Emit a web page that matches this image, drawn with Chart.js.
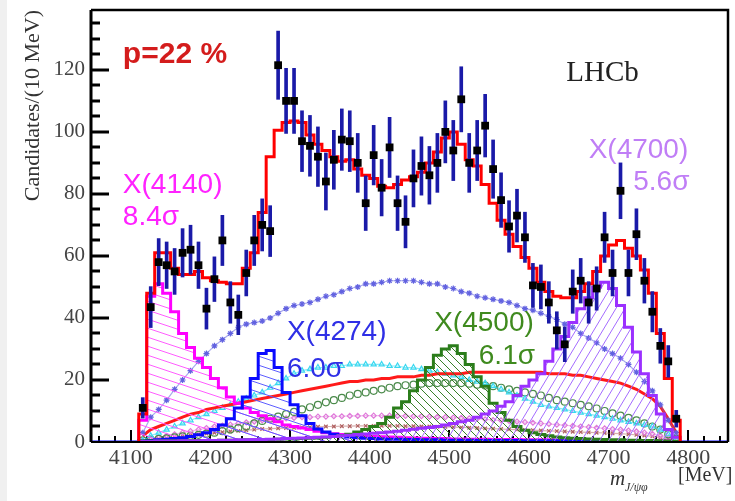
<!DOCTYPE html>
<html lang="en">
<head>
    <meta charset="UTF-8">
    <title>m(J/psi phi) fit</title>
    <script src="https://cdn.jsdelivr.net/npm/chart.js"></script>
    <style>
        body { margin: 0; background: #fff; }
        canvas { display: block; }
    </style>
</head>
<body>
<canvas id="massChart" width="735" height="501"></canvas>
<script>
    // 10 MeV bin centres, 4115 ... 4785
    const bins = Array.from({ length: 68 }, (_, i) => 4115 + 10 * i);

    const xTickLabels = [4100, 4200, 4300, 4400, 4500, 4600, 4700, 4800];
    const yTickLabels = [0, 20, 40, 60, 80, 100, 120];

    // data points and their errors
    const dataVals = [11, 43.5, 58, 57, 55, 61, 62, 57, 43, 52.5,
        65, 45, 41, 54.5, 65, 70, 68, 121.5, 110, 110,
        97, 95.5, 92, 84, 91, 97.5, 97, 90, 77, 92.5,
        82, 95, 77, 71, 85, 89, 86, 90, 100, 94,
        110.5, 90, 94, 102, 88, 78, 69.5, 73, 66, 50.5,
        50, 45, 36, 31.5, 48.5, 52, 45, 49.5, 66, 54.5,
        81, 54.5, 67, 52, 42, 31, 26, 7.5];
    const dataErr = [3.3, 6.6, 7.6, 7.5, 7.4, 7.8, 7.9, 7.5, 6.6, 7.2,
        8.1, 6.7, 6.4, 7.4, 8.1, 8.4, 8.2, 11, 10.5, 10.5,
        9.8, 9.8, 9.6, 9.2, 9.5, 9.9, 9.8, 9.5, 8.8, 9.6,
        9.1, 9.7, 8.8, 8.4, 9.2, 9.4, 9.3, 9.5, 10, 9.7,
        10.5, 9.5, 9.7, 10.1, 9.4, 8.8, 8.3, 8.5, 8.1, 7.1,
        7.1, 6.7, 6, 5.6, 7, 7.2, 6.7, 7, 8.1, 7.4,
        9, 7.4, 8.2, 7.2, 6.5, 5.6, 5.1, 2.7];

    // total fit
    const fitTotal = [9, 48, 61, 61, 56, 54, 54, 55, 53, 52,
        51.5, 51, 51, 56, 61, 74, 92, 100.5, 103, 103.5,
        103, 99, 96, 94, 92, 90.5, 91, 88, 86, 85,
        82.5, 82, 83, 84.5, 85.5, 87, 90, 93.5, 98, 100,
        96, 91, 89, 83, 77, 71.5, 67, 63, 59.5, 56,
        51.5, 48.5, 47, 46.5, 46.5, 48.5, 51, 55, 60, 63.5,
        65, 62.5, 60, 55.5, 48, 35, 20.5, 7];

    // hatched X states
    const x4140 = [7, 47, 51, 48, 42, 35, 30.5, 27, 24, 20.5,
        17.5, 14.5, 12.5, 11, 9.5, 8.5, 7.5, 6.5, 5.5, 5,
        4.5, 4, 3.5, 3, 2.7, 2.4, 2.2, 2, 1.9, 1.8,
        1.7, 1.6, 1.5, 1.4, 1.3, 1.2, 1.2, 1.1, 1.1, 1,
        1, 0.9, 0.9, 0.9, 0.8, 0.8, 0.8, 0.8, 0.7, 0.7,
        0.7, 0.7, 0.6, 0.6, 0.6, 0.6, 0.6, 0.5, 0.5, 0.5,
        0.5, 0.5, 0.5, 0.4, 0.4, 0.4, 0.3, 0.2];
    const x4274 = [0.3, 0.5, 0.7, 0.9, 1.1, 1.4, 1.8, 2.3, 3, 4,
        5.5, 7.5, 11, 14.5, 20.5, 28.5, 29.5, 24, 16, 12,
        8.5, 6, 4.2, 3.2, 2.5, 2, 1.6, 1.4, 1.2, 1.1,
        1, 0.9, 0.9, 0.8, 0.8, 0.7, 0.7, 0.7, 0.6, 0.6,
        0.6, 0.6, 0.5, 0.5, 0.5, 0.5, 0.5, 0.5, 0.4, 0.4,
        0.4, 0.4, 0.4, 0.4, 0.4, 0.4, 0.3, 0.3, 0.3, 0.3,
        0.3, 0.3, 0.3, 0.3, 0.2, 0.2, 0.2, 0.1];
    const x4500 = [0.3, 0.3, 0.3, 0.4, 0.4, 0.4, 0.4, 0.5, 0.5, 0.5,
        0.6, 0.6, 0.6, 0.7, 0.7, 0.8, 0.8, 0.9, 1, 1,
        1.1, 1.2, 1.3, 1.5, 1.8, 2.1, 2.5, 3.2, 4, 5,
        6, 8, 11, 13, 16.5, 20, 24, 28, 30, 31,
        28.5, 25, 21, 18, 12.5, 9.5, 7, 5, 3.8, 3,
        2.4, 2, 1.6, 1.4, 1.2, 1.1, 1, 0.9, 0.8, 0.7,
        0.7, 0.6, 0.6, 0.5, 0.5, 0.4, 0.3, 0.2];
    const x4700 = [0.2, 0.2, 0.3, 0.3, 0.3, 0.4, 0.4, 0.4, 0.5, 0.5,
        0.6, 0.6, 0.7, 0.7, 0.8, 0.8, 0.9, 1, 1.1, 1.2,
        1.3, 1.4, 1.5, 1.6, 1.8, 2, 2.2, 2.4, 2.6, 2.8,
        3, 3.2, 3.5, 3.8, 4.1, 4.4, 4.7, 5, 5.5, 6,
        6.5, 7, 8, 9, 10, 11.5, 13, 15, 18, 20,
        22, 26, 30, 34, 38.5, 43, 46.5, 50, 51.5, 49.5,
        44, 37, 29, 22, 15, 9, 4, 1.5];

    // other fit components (markers / smooth lines)
    const starComp = [3, 8, 10.5, 13.5, 17, 20, 23, 26, 28.5, 31,
        33, 35, 37, 38, 38.5, 39, 40, 41.5, 43, 44,
        44.5, 45, 46, 47, 47.5, 48.5, 49.5, 50, 51, 51,
        51.5, 52, 52, 52, 52, 51.5, 51, 51, 50, 49.5,
        48.5, 48, 47, 46.5, 46, 45.5, 45, 44, 43, 42.5,
        41.5, 40.5, 39.5, 38, 37, 35, 33.5, 32, 30, 28.5,
        27, 25, 22.5, 19.5, 16.5, 12, 7, 3];
    const cyanComp = [0.5, 2, 3, 4, 5, 6, 7, 8, 9, 10,
        11, 12, 13, 14, 15, 16, 17.5, 19, 20.5, 22,
        23, 23.5, 24, 24, 24.5, 24.5, 25, 25, 25, 25,
        25, 24.5, 24.5, 24, 24, 23.5, 23, 22.5, 22, 21.5,
        21, 20, 19.5, 19, 18, 17, 16, 15, 14, 13,
        12, 11.5, 11, 10.5, 10, 9.5, 9, 8.5, 8, 7.5,
        7, 6.5, 6, 5.5, 5, 4, 2.5, 1];
    const redComp = [2, 4, 5, 6, 7, 8, 9, 9.5, 10.5, 11,
        11.5, 12, 12.5, 13, 13.5, 14, 14.5, 15, 15.5, 16,
        16.5, 17, 17.5, 18, 18.5, 19, 19.5, 19.5, 20, 20,
        20.5, 20.5, 21, 21, 21, 21.5, 21.5, 22, 22, 22,
        22, 22.5, 22.5, 22.5, 22.5, 22.5, 22.5, 22.5, 22.5, 22.5,
        22.5, 22, 22, 22, 21.5, 21.5, 21, 20.5, 20, 19.5,
        19, 18, 17, 15.5, 14, 11.5, 7.5, 3];
    const circComp = [0.5, 0.8, 1, 1.2, 1.5, 1.8, 2, 2.3, 2.7, 3,
        3.5, 4, 4.5, 5, 6, 6.8, 7.5, 8.2, 9, 9.7,
        10.5, 11.2, 12, 12.8, 13.5, 14.2, 15, 15.5, 16, 16.5,
        17, 17.5, 18, 18.3, 18.5, 18.8, 19, 19, 19, 19,
        19, 18.8, 18.5, 18.2, 18, 17.5, 17, 16.5, 16, 15.5,
        15, 14.2, 13.5, 13, 12.5, 12, 11.5, 10.8, 10, 9.2,
        8.5, 7.8, 7, 6, 5, 4, 2.5, 1];
    const pinkComp = [0.5, 1, 1.5, 2, 2.5, 3, 3.5, 4, 4.5, 5,
        5.3, 5.6, 6, 6.3, 6.6, 7, 7.2, 7.4, 7.6, 7.8,
        8, 8, 8.2, 8.2, 8.3, 8.3, 8.4, 8.4, 8.5, 8.5,
        8.5, 8.5, 8.4, 8.4, 8.3, 8.3, 8.2, 8.1, 8, 7.9,
        7.8, 7.6, 7.5, 7.3, 7.1, 7, 6.8, 6.6, 6.4, 6.2,
        6, 5.8, 5.6, 5.4, 5.2, 5, 4.8, 4.6, 4.4, 4.2,
        4, 3.7, 3.4, 3, 2.6, 2, 1.3, 0.5];
    const brownComp = [0.3, 0.6, 0.9, 1.2, 1.5, 1.8, 2.1, 2.4, 2.7, 3,
        3.2, 3.4, 3.6, 3.8, 4, 4.2, 4.3, 4.4, 4.5, 4.6,
        4.7, 4.8, 4.9, 5, 5, 5.1, 5.1, 5.2, 5.2, 5.2,
        5.2, 5.2, 5.2, 5.1, 5.1, 5, 5, 4.9, 4.9, 4.8,
        4.7, 4.6, 4.5, 4.4, 4.3, 4.2, 4.1, 4, 3.9, 3.8,
        3.7, 3.6, 3.5, 3.4, 3.3, 3.2, 3.1, 3, 2.9, 2.8,
        2.7, 2.5, 2.3, 2.1, 1.8, 1.4, 0.9, 0.4];

    // text drawn inside the frame, anchored in data coordinates
    const notes = [
        { t: 'p=22 %', m: 4090, v: 122.3, c: '#d41c1c', f: 'bold 30px "Liberation Sans"' },
        { t: 'LHCb', m: 4647, v: 116.5, c: '#222', f: '29px "Liberation Serif"' },
        { t: 'X(4140)', m: 4090, v: 80.3, c: '#ff22ff', f: '28px "Liberation Sans"' },
        { t: '8.4σ', m: 4090, v: 70, c: '#ff22ff', f: '28px "Liberation Sans"' },
        { t: 'X(4274)', m: 4296, v: 32.9, c: '#2f2fe6', f: '28px "Liberation Sans"' },
        { t: '6.0σ', m: 4296, v: 21, c: '#2f2fe6', f: '28px "Liberation Sans"' },
        { t: 'X(4500)', m: 4481, v: 35.8, c: '#3f8a1e', f: '28px "Liberation Sans"' },
        { t: '6.1σ', m: 4537, v: 25.2, c: '#3f8a1e', f: '28px "Liberation Sans"' },
        { t: 'X(4700)', m: 4675, v: 91.6, c: '#c07ef6', f: '28px "Liberation Sans"' },
        { t: '5.6σ', m: 4731, v: 81.3, c: '#c07ef6', f: '28px "Liberation Sans"' }
    ];

    function hatch(w, h, color, up) {
        const c = document.createElement('canvas');
        c.width = w; c.height = h;
        const g = c.getContext('2d');
        g.strokeStyle = color;
        g.lineWidth = 1;
        [[0, -h], [0, 0], [0, h], [-w, 0], [w, 0]].forEach(([dx, dy]) => {
            g.beginPath();
            if (up) { g.moveTo(dx, dy + h); g.lineTo(dx + w, dy); }
            else { g.moveTo(dx, dy); g.lineTo(dx + w, dy + h); }
            g.stroke();
        });
        return g.createPattern(c, 'repeat');
    }

    // step histogram: points on left bin edges, closed down to zero
    function histPoints(vals, extend) {
        const pts = [{ x: bins[0] - 5, y: 0 }];
        vals.forEach((v, i) => pts.push({ x: bins[i] - 5, y: v }));
        const end = bins[bins.length - 1] + 5;
        pts.push({ x: end, y: vals[vals.length - 1] }, { x: end, y: 0 });
        if (extend) { pts.unshift({ x: 4050, y: 0 }); pts.push({ x: 4850, y: 0 }); }
        return pts;
    }
    const pts = vals => bins.map((b, i) => ({ x: b, y: vals[i] }));

    const hist = (vals, color, pattern, order, extend) => ({
        data: histPoints(vals, extend), stepped: true, borderColor: color, borderWidth: 3,
        backgroundColor: pattern, fill: pattern ? 'origin' : false, pointRadius: 0, order: order
    });
    const marks = (vals, style, color, lineColor, r, order) => ({
        data: pts(vals), pointStyle: style, pointRadius: r, pointBorderColor: color,
        pointBackgroundColor: 'rgba(0,0,0,0)', pointBorderWidth: 1.2,
        showLine: !!lineColor, borderColor: lineColor || color, borderWidth: 1.2, fill: false, order: order
    });

    const frame = {
        id: 'frame',
        beforeDraw(chart) {
            const ctx = chart.ctx;
            ctx.save();
            ctx.fillStyle = '#f0f0f0';
            ctx.fillRect(0, 0, 7, chart.height);
            ctx.restore();
        },
        beforeDatasetsDraw(chart) {
            const { ctx, chartArea: a, scales: { x } } = chart;
            ctx.save();
            ctx.strokeStyle = '#000';
            ctx.lineWidth = 2;
            for (let m = 4060; m < 4850; m += 20) {
                const px = Math.round(x.getPixelForValue(m));
                const len = m % 100 === 0 ? 12 : 6;
                ctx.beginPath(); ctx.moveTo(px, a.bottom); ctx.lineTo(px, a.bottom - len); ctx.stroke();
            }
            ctx.restore();
        },
        afterDatasetsDraw(chart) {
            const { ctx, chartArea: a, scales: { x, y } } = chart;
            ctx.save();
            ctx.strokeStyle = '#000';
            ctx.lineWidth = 3;
            for (let v = 5; v <= 135; v += 5) {
                const py = Math.round(y.getPixelForValue(v));
                const len = v % 20 === 0 ? 18 : 9;
                ctx.beginPath(); ctx.moveTo(a.left, py); ctx.lineTo(a.left + len, py); ctx.stroke();
            }
            ctx.beginPath(); ctx.moveTo(a.left, a.top); ctx.lineTo(a.left, a.bottom); ctx.stroke();
            ctx.lineWidth = 2.5;
            ctx.beginPath();
            ctx.moveTo(a.left, a.top); ctx.lineTo(a.right, a.top); ctx.lineTo(a.right, a.bottom);
            ctx.stroke();
            ctx.lineWidth = 2;
            ctx.beginPath(); ctx.moveTo(a.left, a.bottom); ctx.lineTo(a.right, a.bottom); ctx.stroke();

            ctx.textBaseline = 'alphabetic';
            ctx.textAlign = 'left';
            notes.forEach(n => {
                ctx.font = n.f;
                ctx.fillStyle = n.c;
                ctx.fillText(n.t, x.getPixelForValue(n.m), y.getPixelForValue(n.v));
            });

            // axis titles
            ctx.fillStyle = '#333';
            ctx.font = 'italic 21px "Liberation Serif"';
            ctx.fillText('m', 610, 485);
            ctx.font = 'italic 12px "Liberation Serif"';
            ctx.fillText('J/ψφ', 625, 491);
            ctx.font = '20px "Liberation Serif"';
            ctx.fillText('[MeV]', 678, 481);

            ctx.translate(33, a.top);
            ctx.rotate(-Math.PI / 2);
            ctx.textAlign = 'right';
            ctx.textBaseline = 'middle';
            ctx.font = '22px "Liberation Serif"';
            ctx.fillText('Candidates/(10 MeV)', 0, 0);
            ctx.restore();
        }
    };

    const magHatch = hatch(27, 9, '#ff5cff', false);
    const blueHatch = hatch(27, 9, '#5c5cff', false);
    const greenHatch = hatch(8, 8, '#3a7f2a', false);
    const purpleHatch = hatch(9, 15, '#a46cff', true);

    new Chart(document.getElementById('massChart'), {
        type: 'line',
        data: {
            datasets: [
                { data: pts(dataVals), showLine: false, pointStyle: 'rect', pointRadius: 5.5,
                  pointBackgroundColor: '#000', pointBorderWidth: 0, order: 0 },
                { type: 'bar', data: bins.map((b, i) => ({ x: b, y: [dataVals[i] - dataErr[i], dataVals[i] + dataErr[i]] })),
                  backgroundColor: '#1a1aa8', barThickness: 3, order: 1 },
                hist(fitTotal, '#ff0000', null, 2),
                hist(x4700, '#9b30ff', purpleHatch, 3),
                hist(x4500, '#2b7d1b', greenHatch, 4),
                hist(x4274, '#0a0aff', blueHatch, 5, true),
                hist(x4140, '#ff00ff', magHatch, 6),
                marks(starComp, 'star', '#6262e0', 'rgba(98,98,224,0.55)', 3, 7),
                { data: pts(redComp), borderColor: '#ff1a1a', borderWidth: 3, pointRadius: 0, fill: false, order: 8 },
                marks(cyanComp, 'triangle', '#38d8f0', 'rgba(56,216,240,0.6)', 3, 9),
                marks(circComp, 'circle', '#4a8a4a', null, 3.5, 10),
                marks(pinkComp, 'rectRot', '#e07ada', 'rgba(224,122,218,0.5)', 2.5, 11),
                marks(brownComp, 'crossRot', '#b06060', 'rgba(176,96,96,0.5)', 2.5, 12)
            ]
        },
        options: {
            responsive: false,
            animation: false,
            devicePixelRatio: 1,
            layout: { padding: { top: 10, right: 7, left: 0, bottom: 0 } },
            plugins: { legend: { display: false }, tooltip: { enabled: false } },
            scales: {
                x: {
                    type: 'linear', min: 4050, max: 4850, offset: false,
                    grid: { display: false, drawTicks: false }, border: { display: false },
                    ticks: {
                        stepSize: 50, autoSkip: false, maxRotation: 0, padding: 3, color: '#444',
                        font: { family: 'Liberation Serif', size: 22 },
                        callback: v => xTickLabels.includes(v) ? String(v) : ''
                    },
                    afterFit: s => { s.height = 59; s.paddingLeft = 0; s.paddingRight = 0; }
                },
                y: {
                    min: 0, max: 139.3,
                    grid: { display: false, drawTicks: false }, border: { display: false },
                    ticks: {
                        stepSize: 20, padding: 6, color: '#444',
                        font: { family: 'Liberation Serif', size: 21 },
                        callback: v => yTickLabels.includes(v) ? String(v) : ''
                    },
                    afterFit: s => { s.width = 91; s.paddingTop = 0; s.paddingBottom = 0; }
                }
            }
        },
        plugins: [frame]
    });
</script>
</body>
</html>
